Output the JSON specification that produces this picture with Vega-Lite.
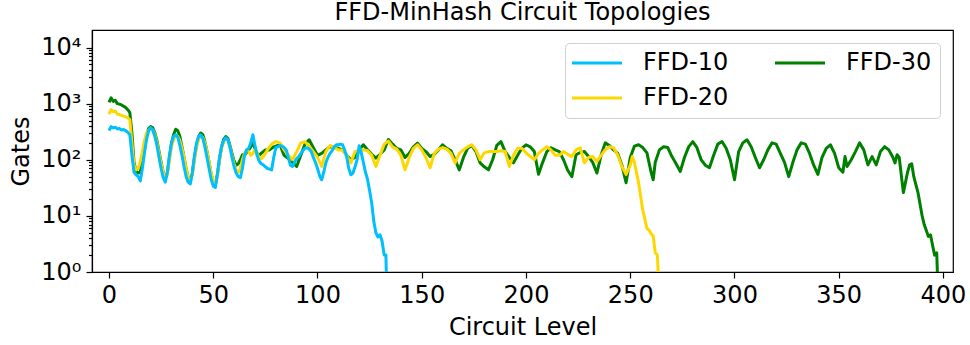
{
"$schema": "https://vega.github.io/schema/vega-lite/v6.json",
"width": 861, "height": 242,
"autosize": {"type": "none"},
"padding": {"left": 92, "top": 30, "right": 17, "bottom": 73},
"background": "white",
"config": {"view": {"stroke": "black", "strokeWidth": 1.2}, "font": "DejaVu Sans"},
"title": {"text": "FFD-MinHash Circuit Topologies", "fontSize": 24, "font": "DejaVu Sans", "fontWeight": "normal", "color": "black", "baseline": "alphabetic", "offset": 9, "dy": 23, "anchor": "middle", "frame": "group"},
"data": {"values": [
{"x":0,"a":330,"b":650,"c":1050},{"x":1,"a":390,"b":780,"c":1270},{"x":2,"a":370,"b":720,"c":1100},{"x":3,"a":380,"b":740,"c":1150},{"x":4,"a":355,"b":650,"c":1000},{"x":5,"a":360,"b":640,"c":980},{"x":6,"a":340,"b":620,"c":950},{"x":7,"a":345,"b":600,"c":900},{"x":8,"a":330,"b":580,"c":850},{"x":9,"a":310,"b":560,"c":780},{"x":10,"a":280,"b":520,"c":690},
{"x":11,"a":120,"b":200,"c":300},{"x":12,"a":60,"b":80,"c":90},{"x":13,"a":54,"b":66,"c":62},{"x":14,"a":50,"b":70,"c":58},{"x":15,"a":42,"b":92,"c":60},{"x":16,"a":70,"b":140,"c":100},{"x":17,"a":130,"b":220,"c":180},{"x":18,"a":230,"b":300,"c":280},{"x":19,"a":330,"b":340,"c":360},{"x":20,"a":373,"b":360,"c":390},
{"x":21,"a":340,"b":340,"c":370},{"x":22,"a":260,"b":280,"c":300},{"x":23,"a":180,"b":200,"c":220},{"x":24,"a":110,"b":130,"c":140},{"x":25,"a":70,"b":85,"c":90},{"x":26,"a":48,"b":60,"c":60},{"x":27,"a":40,"b":48,"c":45},{"x":28,"a":60,"b":55,"c":60},{"x":29,"a":120,"b":100,"c":110},{"x":30,"a":200,"b":170,"c":200},
{"x":31,"a":260,"b":230,"c":280},{"x":32,"a":280,"b":270,"c":350},{"x":33,"a":250,"b":260,"c":330},{"x":34,"a":180,"b":220,"c":260},{"x":35,"a":120,"b":160,"c":170},{"x":36,"a":75,"b":110,"c":110},{"x":37,"a":50,"b":70,"c":70},{"x":38,"a":40,"b":48,"c":48},{"x":39,"a":37,"b":40,"c":42},{"x":40,"a":60,"b":55,"c":58},
{"x":41,"a":120,"b":100,"c":110},{"x":42,"a":200,"b":170,"c":180},{"x":43,"a":260,"b":230,"c":260},{"x":44,"a":279,"b":260,"c":300},{"x":45,"a":240,"b":250,"c":280},{"x":46,"a":170,"b":200,"c":210},{"x":47,"a":110,"b":140,"c":140},{"x":48,"a":70,"b":90,"c":90},{"x":49,"a":45,"b":60,"c":55},{"x":50,"a":34,"b":42,"c":38},
{"x":51,"a":32,"b":38,"c":36},{"x":52,"a":55,"b":50,"c":55},{"x":53,"a":110,"b":100,"c":100},{"x":54,"a":170,"b":160,"c":170},{"x":55,"a":220,"b":210,"c":230},{"x":56,"a":247,"b":240,"c":260},{"x":57,"a":230,"b":220,"c":240},{"x":58,"a":170,"b":170,"c":180},{"x":59,"a":110,"b":120,"c":130},{"x":60,"a":75,"b":85,"c":95},
{"x":61,"a":58,"b":65,"c":80},{"x":62,"a":50,"b":60,"c":85},{"x":63,"a":48,"b":70,"c":100},{"x":64,"a":70,"b":100,"c":123},{"x":65,"a":120,"b":130,"c":120},{"x":66,"a":150,"b":150,"c":135},{"x":67,"a":160,"b":140,"c":150},{"x":68,"a":200,"b":120,"c":170},{"x":69,"a":279,"b":130,"c":200},{"x":70,"a":180,"b":150,"c":160},
{"x":71,"a":120,"b":130,"c":130},{"x":72,"a":95,"b":110,"c":120},{"x":73,"a":85,"b":105,"c":130},{"x":74,"a":81,"b":114,"c":140},{"x":75,"a":75,"b":130,"c":150},{"x":76,"a":70,"b":150,"c":150},{"x":77,"a":68,"b":170,"c":150},{"x":78,"a":66,"b":190,"c":160},{"x":79,"a":110,"b":200,"c":170},{"x":80,"a":164,"b":211,"c":175},
{"x":81,"a":170},{"x":82,"a":180,"b":200,"c":185},{"x":83,"a":175},{"x":84,"a":165,"b":150,"c":120},{"x":85,"a":150},{"x":86,"a":110,"b":120,"c":105},{"x":87,"a":80},{"x":88,"a":76,"b":100,"c":90},{"x":89,"a":90},{"x":90,"a":105,"b":140,"c":76},
{"x":91,"a":114},{"x":92,"a":130,"b":200,"c":120},{"x":93,"a":145},{"x":94,"a":160,"b":210,"c":190},{"x":95,"a":164},{"x":96,"a":155,"b":175,"c":227},{"x":97,"a":140},{"x":98,"a":110,"b":140,"c":164},{"x":99,"a":90},{"x":100,"a":70,"b":110,"c":120},
{"x":101,"a":52},{"x":102,"a":44,"b":76,"c":130},{"x":103,"a":60},{"x":104,"a":88,"b":140,"c":150},{"x":105,"a":110},{"x":106,"a":130,"b":180,"c":171},{"x":107,"a":145},{"x":108,"a":170,"b":165,"c":165},{"x":109,"a":185},{"x":110,"a":185,"b":150,"c":160},
{"x":111,"a":190},{"x":112,"a":185,"b":150,"c":150},{"x":113,"a":150},{"x":114,"a":114,"b":120,"c":120},{"x":115,"a":70},{"x":116,"a":54,"b":88,"c":100},{"x":117,"a":58},{"x":118,"a":75,"b":140,"c":110},{"x":119,"a":100},{"x":120,"a":178,"b":150,"c":150},
{"x":121,"a":133},{"x":122,"a":90,"b":150,"c":185},{"x":123,"a":60},{"x":124,"a":45,"b":145,"c":150},{"x":125,"a":28},{"x":126,"a":17,"b":120,"c":125},{"x":127,"a":8},{"x":128,"a":5,"b":76,"c":107},{"x":129,"a":4.2},{"x":130,"a":4.6,"b":120,"c":125},
{"x":131,"a":3.5},{"x":132,"a":2,"b":190,"c":150},{"x":132.8,"a":2},{"x":133,"a":1},
{"x":134,"b":215,"c":230},{"x":136,"b":170,"c":190},{"x":138,"b":155,"c":160},{"x":140,"b":120,"c":150},{"x":142,"b":66,"c":110},{"x":144,"b":110,"c":130},{"x":146,"b":160,"c":170},{"x":148,"b":185,"c":198},{"x":150,"b":150,"c":160},
{"x":152,"b":110,"c":140},{"x":154,"b":72,"c":114},{"x":156,"b":130,"c":125},{"x":158,"b":155,"c":150},{"x":160,"b":165,"c":185},{"x":162,"b":155,"c":160},{"x":164,"b":130,"c":145},{"x":166,"b":88,"c":100},{"x":168,"b":130,"c":66},{"x":170,"b":150,"c":110},
{"x":172,"b":170,"c":160},{"x":174,"b":185,"c":180},{"x":176,"b":150,"c":140},{"x":178,"b":100,"c":88},{"x":180,"b":133,"c":75},{"x":182,"b":140,"c":66},{"x":184,"b":140,"c":100},{"x":186,"b":140,"c":180},{"x":188,"b":145,"c":211},{"x":190,"b":140,"c":140},
{"x":192,"b":76,"c":110},{"x":194,"b":120,"c":88},{"x":196,"b":160,"c":120},{"x":198,"b":160,"c":160},{"x":200,"b":133,"c":185},{"x":202,"b":115,"c":170},{"x":204,"b":100,"c":140},{"x":206,"b":130,"c":55},{"x":208,"b":150,"c":90},{"x":210,"b":171,"c":140},
{"x":212,"b":150,"c":164},{"x":214,"b":120,"c":150},{"x":216,"b":120,"c":140},{"x":218,"b":140,"c":100},{"x":220,"b":125,"c":65},{"x":222,"b":114,"c":50},{"x":224,"b":150,"c":123},{"x":226,"b":164,"c":135},{"x":228,"b":88,"c":140},{"x":230,"b":110,"c":114},
{"x":232,"b":114,"c":90},{"x":234,"b":93,"c":58},{"x":236,"b":120,"c":120},{"x":238,"b":150,"c":200},{"x":240,"b":171,"c":180},{"x":242,"b":164,"c":150},{"x":244,"b":120,"c":130},{"x":246,"b":76,"c":80},{"x":248,"b":55,"c":39},{"x":250,"b":80,"c":110},
{"x":251,"b":114},{"x":252,"b":90,"c":175},{"x":254,"b":39,"c":185},{"x":256,"b":12.8,"c":165},{"x":258,"b":6,"c":133},{"x":259,"b":5.6},{"x":260,"b":4.8,"c":60},{"x":261,"b":4.4,"c":44},{"x":262,"b":2.2,"c":90},{"x":263,"b":2},{"x":263.4,"b":1},
{"x":264,"c":150},{"x":266,"c":171},{"x":268,"c":165},{"x":270,"c":114},{"x":272,"c":85},{"x":274,"c":62},{"x":276,"c":110},{"x":278,"c":170},{"x":280,"c":211},{"x":282,"c":164},{"x":284,"c":100},{"x":286,"c":80},{"x":288,"c":72},{"x":290,"c":120},
{"x":292,"c":190},{"x":294,"c":211},{"x":296,"c":160},{"x":298,"c":100},{"x":300,"c":44},{"x":302,"c":140},{"x":304,"c":200},{"x":306,"c":227},{"x":308,"c":171},{"x":310,"c":110},{"x":312,"c":72},{"x":314,"c":100},{"x":316,"c":150},{"x":318,"c":200},
{"x":320,"c":190},{"x":322,"c":130},{"x":324,"c":90},{"x":326,"c":50},{"x":328,"c":90},{"x":330,"c":150},{"x":332,"c":200},{"x":334,"c":190},{"x":336,"c":130},{"x":338,"c":80},{"x":340,"c":55},{"x":342,"c":110},{"x":344,"c":160},{"x":346,"c":185},
{"x":348,"c":130},{"x":350,"c":72},{"x":352,"c":60},{"x":353,"c":114},{"x":354,"c":76},{"x":356,"c":100},{"x":358,"c":140},{"x":360,"c":200},{"x":362,"c":150},{"x":364,"c":81},{"x":366,"c":114},{"x":368,"c":81},{"x":370,"c":140},{"x":372,"c":171},
{"x":374,"c":150},{"x":376,"c":110},{"x":377,"c":88},{"x":378,"c":123},{"x":379,"c":110},{"x":381,"c":26},{"x":383,"c":60},{"x":384,"c":81},{"x":385,"c":85},{"x":386,"c":50},{"x":388,"c":26},{"x":390,"c":10},{"x":391,"c":7},{"x":393,"c":4.3},
{"x":394,"c":4.6},{"x":395,"c":3},{"x":396,"c":2},{"x":397,"c":2.2},{"x":397.3,"c":1}
]},
"encoding": {
  "x": {"field": "x", "type": "quantitative", "scale": {"domain": [-8.15, 404.8], "nice": false, "zero": false},
    "axis": {"values": [0,50,100,150,200,250,300,350,400], "title": "Circuit Level", "titleFontSize": 24, "titleFont": "DejaVu Sans", "titleFontWeight": "normal", "titleColor": "black", "labelFontSize": 24, "labelFont": "DejaVu Sans", "labelColor": "black", "tickColor": "black", "domainColor": "black", "tickSize": 6, "tickWidth": 1.2, "domainWidth": 1.2, "labelPadding": 5, "grid": false, "labelFlush": false, "titleBaseline": "alphabetic", "titleX": 430.5, "titleY": 62, "titleAlign": "center"}}
},
"layer": [
 {"mark": {"type": "line", "strokeWidth": 3, "clip": true, "strokeJoin": "round", "invalid": "filter"},
  "encoding": {
   "y": {"field": "c", "type": "quantitative", "title": "Gates", "scale": {"type": "log", "domain": [1, 20540], "nice": false},
     "axis": {"values": [1,2,3,4,5,6,7,8,9,10,20,30,40,50,60,70,80,90,100,200,300,400,500,600,700,800,900,1000,2000,3000,4000,5000,6000,7000,8000,9000,10000],
       "labelExpr": "datum.value == 1 ? '10⁰' : datum.value == 10 ? '10¹' : datum.value == 100 ? '10²' : datum.value == 1000 ? '10³' : datum.value == 10000 ? '10⁴' : ''",
       "tickSize": {"condition": {"test": "indexof([1,10,100,1000,10000], datum.value) >= 0", "value": 6}, "value": 3.5},
       "titleFontSize": 24, "titleFont": "DejaVu Sans", "titleFontWeight": "normal", "titleColor": "black", "labelFontSize": 24, "labelFont": "DejaVu Sans", "labelColor": "black", "tickColor": "black", "domainColor": "black", "tickWidth": 1.2, "domainWidth": 1.2, "labelPadding": 5, "grid": false, "labelFlush": false, "labelOverlap": false,
       "titleAngle": -90, "titleBaseline": "alphabetic", "titleAlign": "center", "titleX": -64, "titleY": 121}},
   "color": {"datum": "FFD-30", "type": "nominal", "scale": {"domain": ["FFD-10", "FFD-20", "FFD-30"], "range": ["#00bfff", "#ffd700", "#008000"]},
     "legend": {"title": null, "values": ["FFD-10", "FFD-20", "FFD-30"], "orient": "none", "legendX": 473, "legendY": 13, "columns": 2, "symbolType": "M-2.5,0H2.5", "symbolSize": 400, "symbolStrokeWidth": 3, "symbolOffset": 12, "labelFontSize": 24, "labelFont": "DejaVu Sans", "labelColor": "black", "labelOffset": 34, "columnPadding": 40, "rowPadding": 11, "padding": 8, "fillColor": "rgba(255,255,255,0.8)", "strokeColor": "#d0d0d0", "cornerRadius": 4}}
  }},
 {"mark": {"type": "line", "strokeWidth": 3, "clip": true, "strokeJoin": "round", "invalid": "filter"},
  "encoding": {
   "y": {"field": "b", "type": "quantitative", "title": "Gates"},
   "color": {"datum": "FFD-20", "type": "nominal"}
  }},
 {"mark": {"type": "line", "strokeWidth": 3, "clip": true, "strokeJoin": "round", "invalid": "filter"},
  "encoding": {
   "y": {"field": "a", "type": "quantitative", "title": "Gates"},
   "color": {"datum": "FFD-10", "type": "nominal"}
  }}
]
}
